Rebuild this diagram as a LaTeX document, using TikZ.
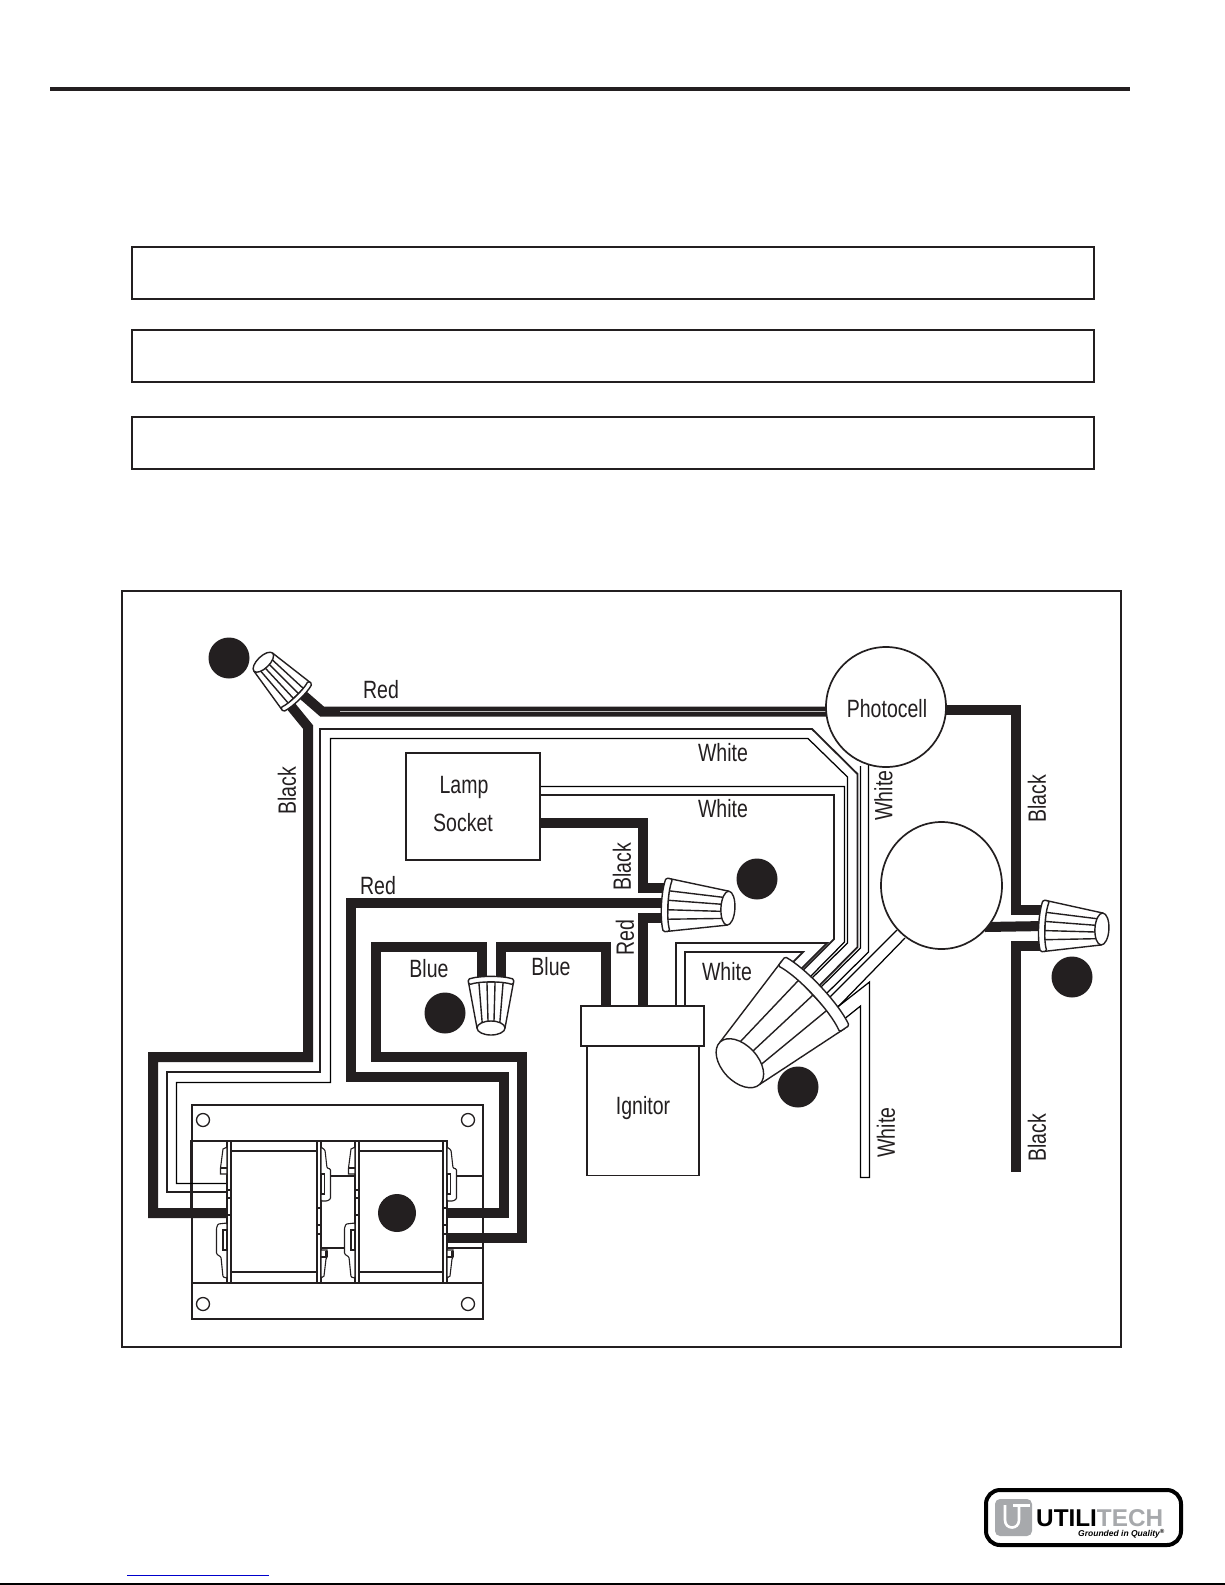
\documentclass[tikz,border=0pt]{standalone}
\usepackage{fontspec}
\setmainfont[FakeStretch=0.78]{Liberation Sans}
\newfontfamily\logofont{Liberation Sans}
\usetikzlibrary{shapes.geometric}
\definecolor{ink}{HTML}{231F20}
\definecolor{logogrey}{HTML}{A7A9AC}
\definecolor{linkblue}{HTML}{0000CC}
\tikzset{
  frame/.style={draw=ink,line width=2pt,fill=white},
  blackwire/.style={draw=ink,line width=10pt,line join=miter},
  whiteA/.style={draw=ink,line width=1.8pt},
  whiteB/.style={draw=black,line width=1.25pt},
  part/.style={draw=ink,line width=1.3pt},
  lbl/.style={text=ink,font=\fontsize{25}{29}\selectfont,inner sep=0pt},
  vlbl/.style={lbl,rotate=90},
  bullet/.style={circle,fill=ink,draw=none,minimum size=41pt,inner sep=0pt},
  blockbox/.style={draw=ink,line width=1.7pt,fill=white,inner sep=0pt},
  nutpart/.style={draw=ink,line width=1.4pt,fill=white,line join=round},
  clippart/.style={draw=ink,line width=1.1pt,fill=white},
}
% center x, center y, page angle, length, flange half height, tip half height, tip minor radius, rib list
\newcommand{\wnut}[8]{%
  \begin{scope}[shift={(#1,#2)},rotate=#3]
    \pgfmathsetmacro{\wn}{#5*0.24}
    \pgfmathsetmacro{\wb}{#5*0.16}
    \filldraw[nutpart] (0,-#5*0.98) -- (#4,-#6) -- (#4,#6) -- (0,#5*0.98) -- cycle;
    \foreach \f in {#8} {\draw[nutpart] (0,\f*#5*0.88) -- (#4,\f*#6);}
    \filldraw[nutpart,rounded corners=1.5pt] (-\wn/2,-#5)
       .. controls (-\wn/2-\wb,-#5*0.5) and (-\wn/2-\wb,#5*0.5) .. (-\wn/2,#5)
       -- (\wn/2,#5*0.96)
       .. controls (\wn/2-\wb,#5*0.5) and (\wn/2-\wb,-#5*0.5) .. (\wn/2,-#5*0.96) -- cycle;
    \filldraw[nutpart] (#4,0) ellipse [x radius=#7,y radius=#6];
  \end{scope}}
% small clip, square end below (left side of a coil, upper)
\newcommand{\clipS}[2]{%
  \filldraw[clippart] (#1,#2) -- (#1-4,#2+2) -- (#1-6.5,#2+21) -- (#1-6.5,#2+27) -- (#1,#2+27) -- cycle;
  \draw[clippart,fill=none] (#1-6.5,#2+21) -- (#1,#2+21);}
% small clip, square end above (right side of a coil, lower)
\newcommand{\clipD}[2]{%
  \filldraw[clippart] (#1,#2) -- (#1+6,#2) -- (#1+6,#2+7) -- (#1+5,#2+9) -- (#1+3,#2+26) -- (#1,#2+28) -- cycle;
  \filldraw[ink] (#1+4,#2+1) rectangle (#1+6,#2+6);
  \draw[clippart,fill=none] (#1,#2+7) -- (#1+6,#2+7);}
% big clip on the right side of a coil
\newcommand{\clipB}[2]{%
  \filldraw[clippart,rounded corners=1pt] (#1,#2) -- (#1+4,#2+3) -- (#1+6,#2+21)
     -- (#1+9.5,#2+22) -- (#1+9.5,#2+52) -- (#1+6,#2+54) -- (#1,#2+54) -- cycle;
  \draw[clippart,fill=none,line width=1.3pt] (#1,#2+27) rectangle (#1+3.3,#2+47);}
% big clip on the left side of a coil
\newcommand{\clipL}[2]{%
  \filldraw[clippart,rounded corners=1pt] (#1,#2) -- (#1-9,#2+1) -- (#1-10.5,#2+5) -- (#1-10.5,#2+31)
     -- (#1-6,#2+34) -- (#1-4,#2+54) -- (#1,#2+55) -- cycle;
  \draw[clippart,fill=none,line width=1.3pt] (#1-4,#2+7) rectangle (#1,#2+27);}
\begin{document}
\begin{tikzpicture}[x=1pt,y=-1pt]
\useasboundingbox (0,0) rectangle (1225,1585);
\fill[white] (0,0) rectangle (1225,1585);
% page furniture
\coordinate (ruleL) at (50,89); \coordinate (ruleR) at (1130,89);
\draw[ink,line width=4pt] (ruleL) -- (ruleR);
\node[frame,minimum width=962pt,minimum height=52pt,anchor=north west,inner sep=0pt] (noteA) at (131,245.5) {};
\node[frame,minimum width=962pt,minimum height=52pt,anchor=north west,inner sep=0pt] (noteB) at (131,328.5) {};
\node[frame,minimum width=962pt,minimum height=52pt,anchor=north west,inner sep=0pt] (noteC) at (131,415.5) {};
\node[frame,minimum width=999pt,minimum height=756pt,anchor=north west,inner sep=0pt] (panel) at (121,590) {};

% named terminals
\coordinate (nutA) at (296,696);
\coordinate (nutB) at (668,905);
\coordinate (nutC) at (1045,926);
\coordinate (coilL) at (228,1213);
\coordinate (coilR) at (447,1213);
\coordinate (coilRb) at (447,1238);

% ballast
\draw[part] (192,1105) rectangle (483,1319);
\draw[part,line width=2pt] (192,1105) -- (483,1105);
\draw[part] (192,1283) -- (483,1283);
\foreach \hx/\hy in {203/1120,468/1120,203/1304,468/1304}
  \draw[part] (\hx,\hy) circle (6.5);
\draw[part,line width=2pt] (191,1213) -- (191,1141) -- (447,1141);
\draw[part] (321,1176) -- (355,1176);
\draw[part,line width=2pt] (321,1248) -- (355,1248);
\draw[part] (447,1176) -- (482.5,1176) -- (482.5,1248);
\draw[part,line width=2pt] (447,1248) -- (483,1248);

% white wires
\draw[whiteA] (228,1192) -- (167,1192) -- (167,1072) -- (320,1072) -- (320,729) -- (812,729) -- (857.5,774) -- (857.5,947) -- (817,988);
\draw[whiteB] (228,1183.5) -- (176.5,1183.5) -- (176.5,1082.5) -- (330.5,1082.5) -- (330.5,738.5) -- (808,738.5) -- (847.5,777) -- (847.5,943) -- (808,982);
\draw[whiteB] (540,786.5) -- (844.5,786.5) -- (844.5,942) -- (807,980);
\draw[whiteA] (540,795) -- (834,795) -- (834,939) -- (798,975);
\draw[whiteB] (860.5,766) -- (860.5,948) -- (818,990);
\draw[whiteB] (868.5,764) -- (868.5,952) -- (823,997);
\draw[whiteA] (676,1007) -- (676,943) -- (827,943) -- (797,973);
\draw[whiteA] (685,1007) -- (685,952) -- (803,952) -- (787,968);
\draw[whiteB] (897,930) -- (827,1000);
\draw[whiteB] (905,938) -- (833,1012);
\draw[whiteB] (835,1009) -- (869.5,982) -- (869.5,1177.5) -- (860.5,1177.5) -- (860.5,1006) -- (838,1024);

% black wires
\draw[blackwire] (303,695) -- (322,711.5) -- (826,711.5);
\draw[white!70!ink,line width=.5pt] (340,711) -- (826,711);
\draw[blackwire] (290,705) -- (308,727) -- (308,1057) -- (153,1057) -- (153,1213) -- (coilL);
\draw[blackwire] (945,710) -- (1015.5,710) -- (1015.5,910) -- (nutC |- 0,910);
\draw[blackwire] (985,927) -- (nutC);
\draw[blackwire] (nutC |- 0,946) -- (1015.5,946) -- (1015.5,1172);
\draw[blackwire] (540,823) -- (643,823) -- (643,888) -- (nutB |- 0,888);
\draw[blackwire] (nutB |- 0,903) -- (350.5,903) -- (350.5,1077) -- (504,1077) -- (504,1213) -- (coilR);
\draw[blackwire] (nutB |- 0,918) -- (643,918) -- (643,1007);
\draw[blackwire] (482,985) -- (482,947) -- (376,947) -- (376,1057) -- (522,1057) -- (522,1238) -- (coilRb);
\draw[blackwire] (501,985) -- (501,947) -- (606,947) -- (606,1007);

% coils
\foreach \cx/\cw in {227/94,355/92}{
  \draw[part,fill=white,line width=1.3pt] (\cx,1141) rectangle (\cx+\cw,1283);
  \draw[part] (\cx+4,1151) -- (\cx+\cw-4,1151);
  \draw[part] (\cx+4,1272) -- (\cx+\cw-4,1272);
  \draw[part,line width=1.5pt] (\cx+4,1141) -- (\cx+4,1283);
  \draw[part,line width=1.5pt] (\cx+\cw-4,1141) -- (\cx+\cw-4,1283);
  \foreach \ty in {1190,1198,1215} \draw[part,line width=1.1pt] (\cx,\ty) -- (\cx+4,\ty);
  \foreach \ty in {1208,1225,1234} \draw[part,line width=1.1pt] (\cx+\cw-4,\ty) -- (\cx+\cw,\ty);
}
\draw[part,line width=2pt] (191,1141) -- (447,1141);
\clipS{227}{1147}
\clipS{355}{1147}
\clipL{227}{1223}
\clipL{355}{1223}
\clipB{321}{1147}
\clipB{447}{1147}
\clipD{321}{1250}
\clipD{447}{1250}

% wire nuts
\wnut{296}{696}{134}{47}{20}{13}{6}{-.6,-.2,.2,.6}
\wnut{668}{905}{-3}{60}{27}{17}{7}{-.6,-.2,.2,.6}
\wnut{1045}{926}{-3}{57}{26}{16}{7}{-.6,-.2,.2,.6}
\wnut{491}{982}{-90}{46}{23}{14}{7}{-.6,-.2,.2,.6}
\wnut{813}{995}{223}{100}{47}{29}{18}{-.5,0,.5}

% components
\node[circle,blockbox,minimum size=120pt] (photocell) at (886,707) {};
\node[lbl] (photolabel) at (887,708.5) {Photocell};
\node[ellipse,blockbox,minimum width=121pt,minimum height=127pt] (capacitor) at (941.5,885.5) {};
\node[blockbox,minimum width=134pt,minimum height=107pt] (lamp) at (473,806.5) {};
\node[lbl] (lamplabelA) at (464,787) {Lamp};
\node[lbl] (lamplabelB) at (463,822.5) {Socket};
\node[blockbox,minimum width=112pt,minimum height=130pt] (ignitor) at (643,1110.5) {};
\node[blockbox,minimum width=123pt,minimum height=40pt] (ignitorhead) at (642.5,1026) {};
\node[lbl] (ignitorlabel) at (643,1108.5) {Ignitor};

% bullets
\node[bullet] (bulletA) at (229,658) {};
\node[bullet] (bulletB) at (757,879) {};
\node[bullet] (bulletC) at (1072,977) {};
\node[bullet] (bulletD) at (798,1087) {};
\node[bullet] (bulletE) at (445,1013) {};
\node[bullet,minimum size=38pt] (bulletF) at (397,1213) {};

% labels
\node[lbl] (redA) at (381,689.5) {Red};
\node[vlbl] (blackA) at (287,790.5) {Black};
\node[lbl] (redB) at (378,886) {Red};
\node[lbl] (whiteAl) at (723,752.5) {White};
\node[lbl] (whiteBl) at (723,808.5) {White};
\node[lbl] (whiteCl) at (727,972) {White};
\node[vlbl] (whiteDl) at (883.5,795.5) {White};
\node[vlbl] (blackB) at (1037,799) {Black};
\node[lbl] (blueA) at (429,968.5) {Blue};
\node[lbl] (blueB) at (551,966.5) {Blue};
\node[vlbl] (redC) at (625,937.5) {Red};
\node[vlbl] (blackC) at (622,866.5) {Black};
\node[vlbl] (blackD) at (1037,1138) {Black};
\node[vlbl] (whiteEl) at (886,1132.5) {White};

% logo
\draw[draw=black,line width=4pt,fill=white,rounded corners=14pt] (986,1490) rectangle (1181,1545);
\fill[logogrey,rounded corners=5pt] (995,1499) rectangle (1032,1536);
\draw[white,line width=2.6pt] (1005,1505) -- (1005,1520) .. controls (1005,1530) and (1019,1530) .. (1019,1520) -- (1019,1506);
\draw[white,line width=2.6pt] (1013,1505.5) -- (1030,1505.5);
\node[anchor=base west,inner sep=0pt,font=\logofont\bfseries\fontsize{24.3}{26}\selectfont] (logotext) at (1036,1526) {UTILI\textcolor{logogrey}{TECH}};
\node[anchor=base east,inner sep=0pt,font=\logofont\bfseries\itshape\fontsize{8.5}{10}\selectfont] (logotag) at (1165,1536) {Grounded in Quality\textsuperscript{®}};

% foot
\draw[linkblue,line width=1pt] (127,1575.3) -- (269,1575.3);
\draw[black,line width=1.3pt] (0,1584) -- (1225,1584);
\end{tikzpicture}
\end{document}
